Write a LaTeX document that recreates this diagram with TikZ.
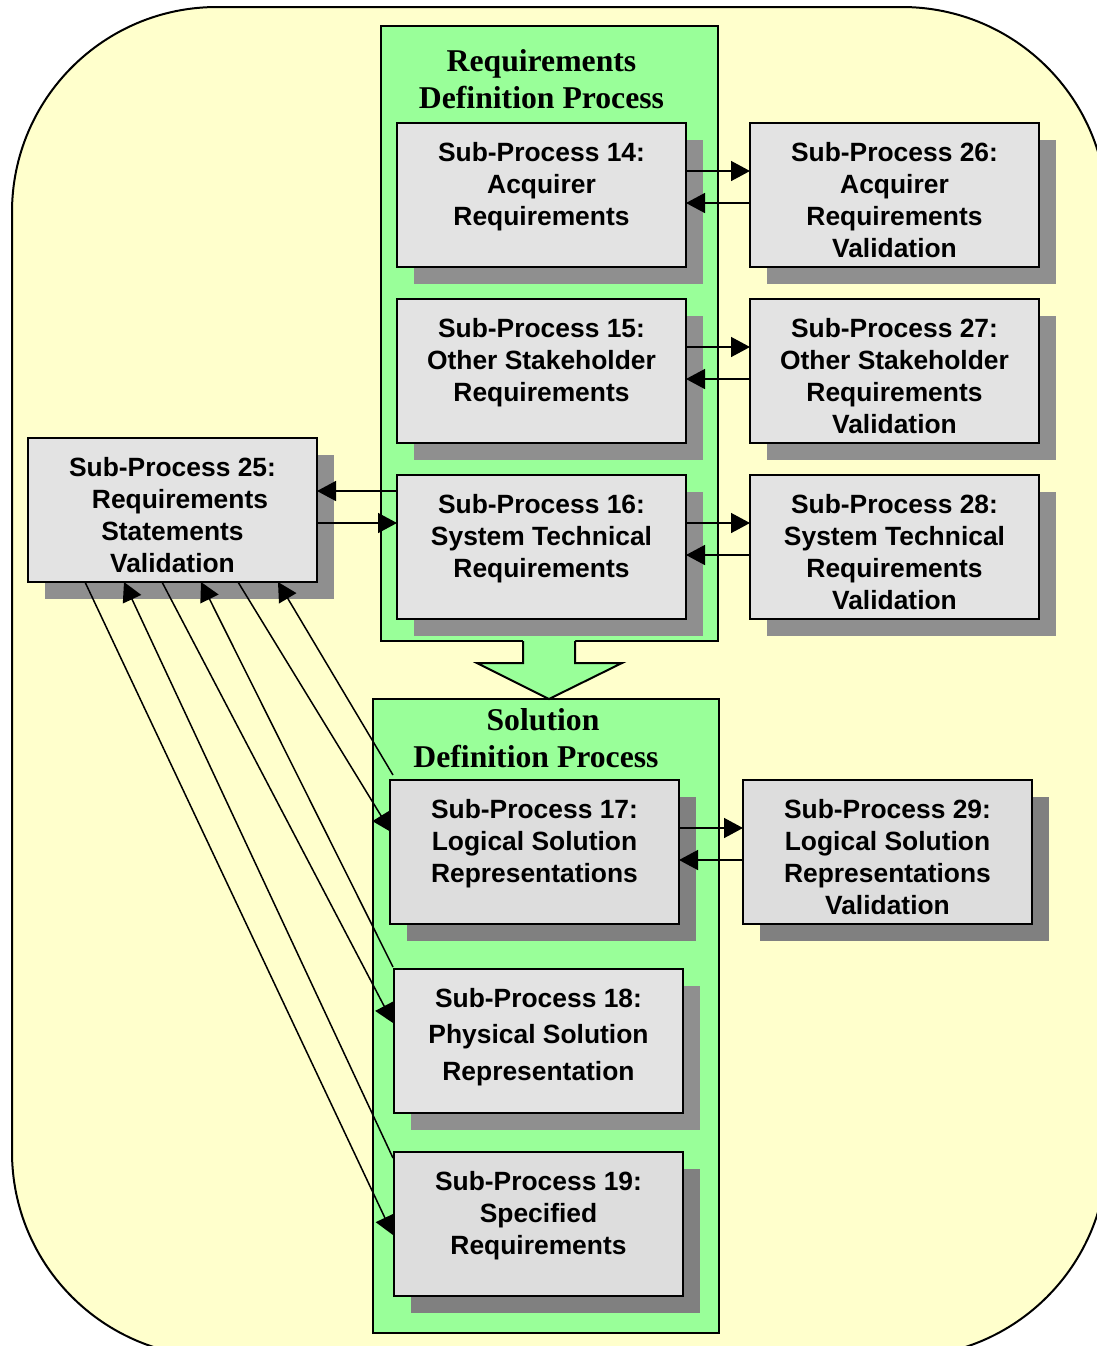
\documentclass[tikz,border=0pt]{standalone}
\usepackage{fontspec}
\setmainfont{Liberation Sans}
\newfontfamily\serifface{Liberation Serif}
\usetikzlibrary{arrows.meta,calc,shadows}

\definecolor{paper}{HTML}{FFFFCC}
\definecolor{procgreen}{HTML}{99FF99}
\definecolor{boxfill}{HTML}{E3E3E3}
\definecolor{boxfilldark}{HTML}{DDDDDD}
\definecolor{shade}{HTML}{8F8F8F}
\definecolor{shadedark}{HTML}{808080}

% fixes the height of the first text line so baselines land predictably
\newcommand{\firstline}{\rule{0pt}{10pt}}
\newcommand{\firsttitle}{\rule{0pt}{12pt}}

\begin{document}
\begin{tikzpicture}[x=0.5pt,y=-0.5pt,
  boxbase/.style={draw, line width=1pt, minimum width=144.5pt, minimum height=72pt,
    inner sep=0pt, outer sep=0pt},
  shadowspec/.style={shadow xshift=8.5pt, shadow yshift=-8.5pt, opacity=1},
  procbox/.style={boxbase, fill=boxfill, drop shadow={shadowspec, fill=shade}},
  darkbox/.style={boxbase, fill=boxfilldark, drop shadow={shadowspec, fill=shadedark}},
  area/.style={draw, line width=1pt, fill=procgreen, inner sep=0pt, outer sep=0pt},
  boxtext/.style={align=center, anchor=north, inner sep=0pt,
    font=\bfseries\fontsize{13.2}{16}\selectfont},
  titletext/.style={align=center, anchor=north, inner sep=0pt,
    font=\serifface\bfseries\fontsize{15.85}{18.5}\selectfont},
  link/.style={line width=0.75pt, -{Triangle[length=9.5pt,width=10pt]}}
]
\useasboundingbox (0,0) rectangle (1097,1346);
\fill[white] (0,0) rectangle (1097,1346);
\clip (0,0) rectangle (1097,1346);

% yellow rounded frame
\path[draw=black, line width=1pt, fill=paper, rounded corners=102.5pt]
  (12,7) rectangle (1107,1357);

% process areas
\node[area, minimum width=168.5pt, minimum height=307.5pt] (reqarea) at (549.5,333.5) {};
\node[area, minimum width=173pt, minimum height=317pt] (solarea) at (546,1016) {};

% block arrow between the two areas
\fill[procgreen] (523,638.5) -- (523,663) -- (477,663) -- (549,699) -- (622,663)
  -- (575,663) -- (575,638.5) -- cycle;
\draw[line width=1pt] (523,641) -- (523,663) -- (477,663) -- (549,699) -- (622,663)
  -- (575,663) -- (575,641);

\node[titletext] (reqtitle) at (541.5,47) {\firsttitle Requirements\\Definition Process};
\node[titletext] (soltitle) at (536,706) {\firsttitle\hspace*{7pt}Solution\\Definition Process};

% sub-process boxes
\node[procbox] (sp14) at (541.5,195) {};
\node[procbox] (sp26) at (894.5,195) {};
\node[procbox] (sp15) at (541.5,371) {};
\node[procbox] (sp27) at (894.5,371) {};
\node[procbox] (sp16) at (541.5,547) {};
\node[procbox] (sp28) at (894.5,547) {};
\node[procbox] (sp25) at (172.5,510) {};
\node[darkbox] (sp17) at (534.5,852) {};
\node[darkbox] (sp29) at (887.5,852) {};
\node[procbox] (sp18) at (538.5,1041) {};
\node[darkbox] (sp19) at (538.5,1224) {};

% box captions
\node[boxtext] (t14) at ($(sp14.north)+(0,18)$) {\firstline Sub-Process 14:\\Acquirer\\Requirements};
\node[boxtext] (t26) at ($(sp26.north)+(0,18)$) {\firstline Sub-Process 26:\\Acquirer\\Requirements\\Validation};
\node[boxtext] (t15) at ($(sp15.north)+(0,18)$) {\firstline Sub-Process 15:\\Other Stakeholder\\Requirements};
\node[boxtext] (t27) at ($(sp27.north)+(0,18)$) {\firstline Sub-Process 27:\\Other Stakeholder\\Requirements\\Validation};
\node[boxtext] (t16) at ($(sp16.north)+(0,18)$) {\firstline Sub-Process 16:\\System Technical\\Requirements};
\node[boxtext] (t28) at ($(sp28.north)+(0,18)$) {\firstline Sub-Process 28:\\System Technical\\Requirements\\Validation};
\node[boxtext] (t25) at ($(sp25.north)+(0,18)$) {\firstline Sub-Process 25:\\\hspace*{7.5pt}Requirements\\Statements\\Validation};
\node[boxtext] (t17) at ($(sp17.north)+(0,18)$) {\firstline Sub-Process 17:\\Logical Solution\\Representations};
\node[boxtext] (t29) at ($(sp29.north)+(0,18)$) {\firstline Sub-Process 29:\\Logical Solution\\Representations\\Validation};
\node[boxtext, font=\bfseries\fontsize{13.2}{18.25}\selectfont] (t18) at ($(sp18.north)+(0,18)$)
  {\firstline Sub-Process 18:\\Physical Solution\\Representation};
\node[boxtext] (t19) at ($(sp19.north)+(0,18)$) {\firstline Sub-Process 19:\\Specified\\Requirements};

% horizontal exchanges with the validation boxes
\foreach \a/\b in {sp14/sp26, sp15/sp27, sp16/sp28, sp17/sp29} {
  \draw[link] ($(\a.east)+(0,-24)$) -- ($(\b.west)+(0,-24)$);
  \draw[link] ($(\b.west)+(0,8)$) -- ($(\a.east)+(0,8)$);
}

% exchanges between 16 and 25
\draw[link] ($(sp16.west)+(0,-56)$) -- ($(sp25.east)+(0,-19)$);
\draw[link] ($(sp25.east)+(0,13)$) -- ($(sp16.west)+(0,-24)$);

% diagonal exchanges between 25 and the solution sub-processes
\draw[link] ($(sp25.south west)+(57,0)$) -- ($(sp19.west)+(-1,11)$);
\draw[link] ($(sp19.north west)+(-1,6)$) -- ($(sp25.south west)+(96,0)$);
\draw[link] ($(sp25.south west)+(134,0)$) -- ($(sp18.west)+(-1,-18)$);
\draw[link] ($(sp18.north west)+(-1,-2)$) -- ($(sp25.south west)+(173,0)$);
\draw[link] ($(sp25.south west)+(210,0)$) -- ($(sp17.west)+(1,-20)$);
\draw[link] ($(sp17.north west)+(3,-5)$) -- ($(sp25.south west)+(250,0)$);
\end{tikzpicture}
\end{document}
